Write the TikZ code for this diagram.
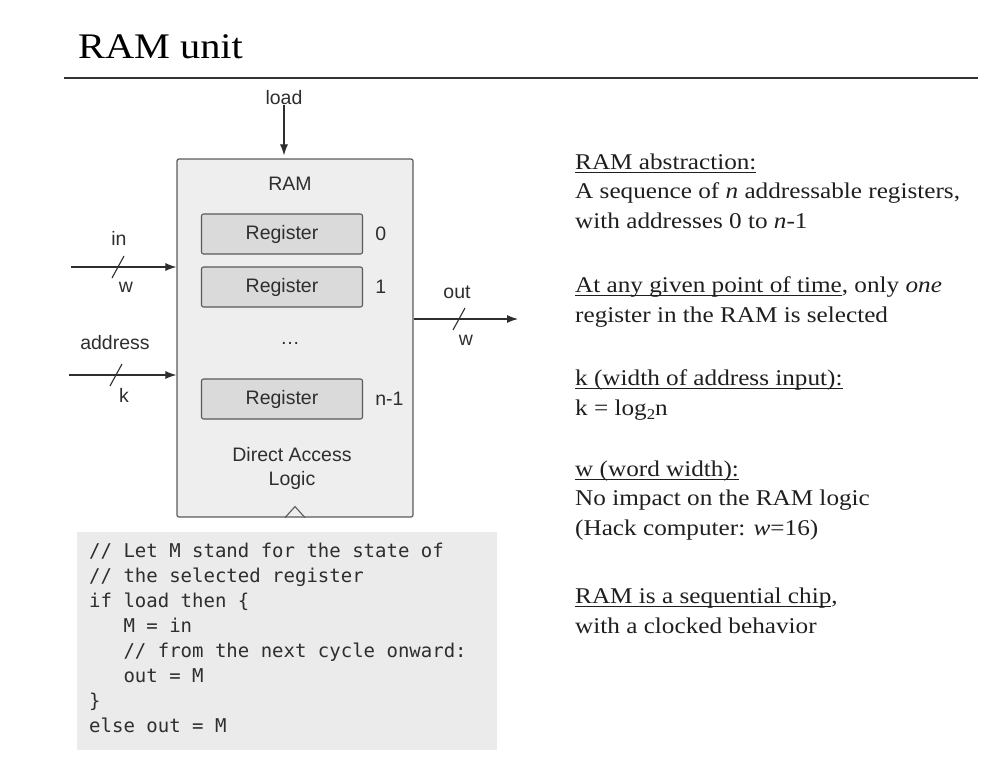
\documentclass[tikz,border=0pt]{standalone}
\usepackage{fontspec}
\setmainfont[FakeStretch=1.12]{Liberation Serif}
\setsansfont{Liberation Sans}
\setmonofont{DejaVu Sans Mono}
\usetikzlibrary{positioning,arrows.meta}
\definecolor{boxfill}{HTML}{EEEEEE}
\definecolor{regfill}{HTML}{DADADA}
\definecolor{codefill}{HTML}{EBEBEB}
\definecolor{edge}{HTML}{5A5A5A}
\definecolor{ink}{HTML}{2E2E2E}
\newcommand\undl[1]{\setbox0\hbox{#1}\rlap{\rule[-3.5pt]{\wd0}{1pt}}\box0}
\tikzset{
  lbl/.style={font=\sffamily\fontsize{19.5}{24}\selectfont,text=ink,inner sep=0pt},
  ram/.style={draw=edge,fill=boxfill,line width=1.2pt,rounded corners=2pt,minimum width=236pt,minimum height=358pt},
  reg/.style={lbl,draw=edge,fill=regfill,line width=1.1pt,rounded corners=2pt,minimum width=161pt,minimum height=40pt},
  arr/.style={draw=ink,line width=1.1pt,-{Latex[length=11pt,width=8pt]}},
  bus/.style={draw=ink,line width=1.1pt},
  para/.style={anchor=base west,align=left,inner sep=0pt,text=black!88,font=\fontsize{22.5}{29.5}\selectfont},
}
\begin{document}
\begin{tikzpicture}[x=1pt,y=-1pt]
  \useasboundingbox (0,0) rectangle (1006,773);
  \node[anchor=base west,inner sep=0pt,font=\fontsize{36}{36}\selectfont] (title) at (78,59) {RAM unit};
  \draw[line width=2pt,black!80] (64,78) -- (978,78);
  % chip
  \node[ram] (ram) at (295,338) {};
  \node[lbl] (ramlbl) at (290,184) {RAM};
  \node[reg] (r0) at (282,234) {Register};
  \node[reg] (r1) at (282,287) {Register};
  \node[reg] (rn) at (282,399) {Register};
  \node[lbl,right=12pt of r0] (i0) {0};
  \node[lbl,right=12pt of r1] (i1) {1};
  \node[lbl,right=12pt of rn] (in1) {n-1};
  \node[lbl] (dots) at (290,343) {\dots};
  \node[lbl,align=center] (dal) at (292,468) {Direct Access\\Logic};
  \draw[draw=edge,line width=1.1pt] ([xshift=-10pt]ram.south) -- ([yshift=11pt]ram.south) -- ([xshift=10pt]ram.south);
  % pins
  \node[lbl] (load) at (284,98) {load};
  \draw[arr,shorten >=3pt] (load) -- (load |- ram.north);
  \coordinate (inl) at (71,267);
  \coordinate (adl) at (69,375);
  \coordinate (outr) at (518,319);
  \draw[arr] (inl) -- (inl -| ram.west);
  \draw[arr] (adl) -- (adl -| ram.west);
  \draw[arr] (outr -| ram.east) -- (outr);
  \draw[bus] (112,278) -- (124,256);
  \draw[bus] (110,386) -- (122,364);
  \draw[bus] (453,330) -- (465,308);
  \node[lbl] (inlbl) at (119,238) {in};
  \node[lbl] (inw) at (126,287) {w};
  \node[lbl] (adlbl) at (115,343) {address};
  \node[lbl] (adk) at (124,395) {k};
  \node[lbl] (outlbl) at (457,292) {out};
  \node[lbl] (outw) at (466,340) {w};
  % behaviour
  \fill[codefill] (77,532) rectangle (497,750);
  \node[anchor=base west,align=left,inner sep=0pt,text=ink,font=\ttfamily\fontsize{19}{25}\selectfont] (code) at (89,732)
    {// Let M stand for the state of\\
     // the selected register\\
     if load then \{\\
     \phantom{if }M = in\\
     \phantom{if }// from the next cycle onward:\\
     \phantom{if }out = M\\
     \}\\
     else out = M};
  % notes
  \node[para] (p1) at (575,228) {\undl{RAM abstraction:}\\A sequence of \textit{n} addressable registers,\\with addresses 0 to \textit{n}-1};
  \node[para] (p2) at (575,322) {\undl{At any given point of time}, only \textit{one}\\register in the RAM is selected};
  \node[para] (p3) at (575,415) {\undl{k (width of address input):}\\k = log\raisebox{-4pt}{\fontsize{15}{15}\selectfont 2}n};
  \node[para] (p4) at (575,535) {\undl{w (word width):}\\No impact on the RAM logic\\(Hack computer: \textit{w}=16)};
  \node[para] (p5) at (575,633) {\undl{RAM is a sequential chip},\\with a clocked behavior};
\end{tikzpicture}
\end{document}
